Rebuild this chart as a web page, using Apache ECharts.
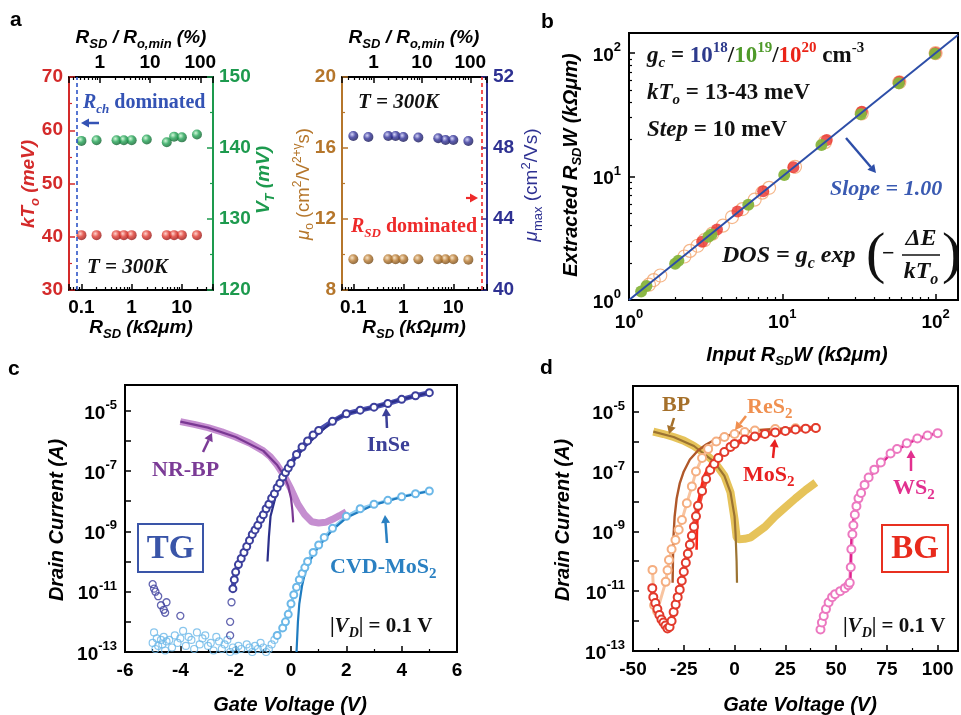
<!DOCTYPE html>
<html><head><meta charset="utf-8">
<script src="https://cdn.jsdelivr.net/npm/echarts@6/dist/echarts.min.js"></script>
<style>html,body{margin:0;padding:0;background:#fff}#c{width:961px;height:715px}</style>
</head><body><div id="c"></div><script>
// ================= DATA =================
// Panel a
const rsdA = [0.1, 0.2, 0.5, 0.7, 1, 2, 5, 7, 10, 20];
const kTo = [40.3, 40.3, 40.3, 40.3, 40.3, 40.3, 40.3, 40.3, 40.3, 40.3];
const vT = [141.0, 141.1, 141.1, 141.1, 141.1, 141.2, 140.8, 141.6, 141.5, 141.9];
const mu0 = [9.73, 9.73, 9.73, 9.73, 9.73, 9.73, 9.73, 9.73, 9.73, 9.70];
const muMax = [48.68, 48.62, 48.68, 48.68, 48.62, 48.59, 48.55, 48.45, 48.45, 48.39];
const rchLimit = 0.076;
const rsdLimit = 37.5;
// Panel b
const bRedIn = [3.0, 3.75, 5.1, 7.5, 11.8, 19.5, 33, 58, 100];
const bRedOut = [2.97, 3.72, 5.2, 7.6, 11.9, 19.8, 33.5, 58.5, 100];
const bGreenIn = [1.2, 1.3, 2.0, 2.1, 3.3, 3.45, 6.0, 10.3, 18, 32.5, 57.5, 99];
const bGreenOut = [1.17, 1.3, 1.97, 2.08, 3.25, 3.4, 5.9, 10.3, 18, 32, 57, 99];
const bOrangeIn = [1.35, 1.45, 1.6, 2.3, 2.5, 2.8, 3.1, 3.5, 4.1, 4.7, 5.5, 6.6, 7.4, 8.2, 12.1, 19, 33, 58, 100];
const bOrangeOut = [1.33, 1.45, 1.58, 2.25, 2.5, 2.75, 3.05, 3.45, 4.0, 4.7, 5.45, 6.5, 7.4, 8.1, 12.0, 19, 32.5, 58, 100];
const bLineX = [1, 140];
const inseNoiseV = [-5.0, -4.95, -4.9, -4.8, -4.7, -4.6, -4.55, -4.5, -4.0, -2.2, -2.2, -2.15];
const inseNoiseLog = [-10.75, -10.9, -11.0, -11.15, -11.45, -11.6, -11.7, -11.35, -11.8, -12.45, -12.0, -11.35];
const inseV = [-2.1, -2.05, -2.0, -1.9, -1.8, -1.7, -1.6, -1.5, -1.4, -1.3, -1.2, -1.1, -1.0, -0.9, -0.8, -0.7, -0.6, -0.5, -0.4, -0.3, -0.2, -0.1, 0.0, 0.2, 0.4, 0.6, 0.8, 1.0, 1.5, 2.0, 2.5, 3.0, 3.5, 4.0, 4.5, 5.0];
const inseLog = [-10.9, -10.6, -10.35, -10.1, -9.9, -9.7, -9.5, -9.3, -9.1, -8.95, -8.8, -8.6, -8.45, -8.25, -8.1, -7.9, -7.75, -7.55, -7.4, -7.2, -7.05, -6.9, -6.75, -6.45, -6.2, -6.0, -5.8, -5.65, -5.35, -5.1, -4.98, -4.88, -4.76, -4.62, -4.5, -4.4];
const inseFitV = [-0.85, -0.8, -0.74, -0.6, -0.5, -0.3, 0, 0.5, 1, 1.5, 2, 3, 4, 5];
const inseFitLog = [-10.0, -9.2, -8.5, -8.0, -7.65, -7.2, -6.75, -6.2, -5.75, -5.35, -5.1, -4.88, -4.62, -4.4];
const cvdNoiseV = [-5.0, -4.95, -4.9, -4.85, -4.8, -4.75, -4.7, -4.65, -4.6, -4.55, -4.5, -4.4, -4.3, -4.2, -4.1, -4.0, -3.9, -3.8, -3.7, -3.6, -3.5, -3.4, -3.3, -3.2, -3.1, -3.0, -2.9, -2.8, -2.7, -2.6, -2.5, -2.4, -2.3, -2.2, -2.1, -2.0, -1.9, -1.8, -1.7, -1.6, -1.5, -1.4, -1.3, -1.2, -1.1, -1.0, -0.9, -0.8, -0.7, -0.6];
const cvdNoiseLog = [-12.7, -12.35, -12.9, -12.55, -12.8, -13.05, -12.6, -12.75, -12.5, -12.95, -12.65, -12.6, -12.85, -12.45, -12.7, -12.55, -12.3, -12.8, -12.5, -12.6, -12.9, -12.35, -12.75, -12.55, -12.45, -12.8, -12.7, -12.95, -12.5, -12.65, -12.9, -12.75, -12.6, -13.0, -12.85, -12.95, -12.8, -12.9, -13.05, -12.75, -12.85, -13.0, -12.8, -12.9, -12.7, -12.85, -13.0, -12.9, -12.75, -12.6];
const cvdV = [-0.5, -0.3, -0.2, -0.1, 0, 0.1, 0.2, 0.3, 0.4, 0.5, 0.6, 0.8, 1.0, 1.2, 1.5, 2.0, 2.5, 3.0, 3.5, 4.0, 4.5, 5.0];
const cvdLog = [-12.45, -12.2, -12.0, -11.75, -11.4, -11.1, -10.85, -10.6, -10.4, -10.2, -10.0, -9.7, -9.45, -9.2, -8.9, -8.5, -8.25, -8.1, -7.97, -7.85, -7.75, -7.66];
const cvdFitV = [0.2, 0.25, 0.3, 0.4, 0.5, 0.7, 1.0, 1.5, 2.0, 3.0, 4.0, 5.0];
const cvdFitLog = [-13.0, -12.0, -11.4, -10.8, -10.4, -9.95, -9.5, -8.95, -8.55, -8.12, -7.86, -7.66];
const nrbpV = [-4.0, -3.5, -3.0, -2.5, -2.0, -1.5, -1.0, -0.75, -0.5, -0.25, 0, 0.25, 0.5, 0.75, 1.0, 1.25, 1.5, 1.75, 2.0];
const nrbpLog = [-5.36, -5.45, -5.56, -5.7, -5.87, -6.07, -6.33, -6.52, -6.8, -7.15, -7.6, -8.1, -8.45, -8.68, -8.72, -8.7, -8.6, -8.48, -8.35];
const nrbpFitV = [-4, -3, -2, -1, -0.5, -0.25, -0.1, 0, 0.05, 0.08];
const nrbpFitLog = [-5.36, -5.56, -5.87, -6.33, -6.8, -7.15, -7.5, -7.9, -8.3, -8.7];
// Panel d
const bpV = [-40, -35, -30, -25, -20, -15, -10, -5, -2, 0, 1, 2, 5, 8, 10, 15, 20, 25, 30, 35, 40];
const bpLog = [-5.67, -5.75, -5.85, -5.97, -6.15, -6.38, -6.68, -7.15, -7.7, -8.6, -9.2, -9.27, -9.25, -9.2, -9.1, -8.85, -8.5, -8.2, -7.9, -7.62, -7.37];
const bpFitV = [-40, -30, -20, -10, -5, -2, 0, 0.5, 1, 1.2];
const bpFitLog = [-5.67, -5.85, -6.15, -6.68, -7.15, -7.7, -8.5, -9.1, -10.0, -10.72];
const res2V = [-40.4, -39.6, -38.1, -33.9, -33, -32.3, -31, -29.1, -27.5, -25.9, -23.5, -21, -19, -16, -13, -9, -5, 0, 5, 10, 20, 30, 40];
const res2Log = [-10.29, -11.47, -11.67, -10.69, -10.3, -9.96, -9.6, -9.29, -8.95, -8.62, -8.06, -7.5, -7.0, -6.55, -6.25, -6.0, -5.85, -5.75, -5.68, -5.63, -5.58, -5.56, -5.55];
const res2FitV = [-30.5, -30.3, -30, -29.5, -28.5, -27, -25, -22, -18, -14, -10, -5, 0, 5, 10, 20, 30, 40];
const res2FitLog = [-10.72, -9.8, -9.1, -8.5, -7.9, -7.4, -7.0, -6.6, -6.3, -6.1, -5.95, -5.82, -5.75, -5.68, -5.63, -5.58, -5.56, -5.55];
const mos2V = [-40.5, -40, -39, -38, -37, -36, -35, -34, -33, -32, -31, -30, -29, -28, -27, -26, -25, -24, -23, -22, -21, -20, -19, -18, -16, -14, -12, -10, -8, -5, -2, 0, 5, 10, 15, 20, 25, 30, 35, 40];
const mos2Log = [-10.9, -11.2, -11.4, -11.6, -11.8, -11.95, -12.05, -12.15, -12.25, -12.2, -12.0, -11.7, -11.45, -11.2, -10.95, -10.65, -10.35, -10.05, -9.75, -9.45, -9.15, -8.85, -8.5, -8.15, -7.65, -7.25, -6.95, -6.75, -6.55, -6.35, -6.18, -6.08, -5.93, -5.83, -5.75, -5.7, -5.65, -5.6, -5.57, -5.55];
const mos2FitV = [-18.7, -18.5, -18, -17, -15, -12, -8, -4, 0, 5, 10, 20, 30, 40];
const mos2FitLog = [-9.62, -8.9, -8.3, -7.7, -7.15, -6.75, -6.45, -6.25, -6.08, -5.93, -5.83, -5.7, -5.6, -5.55];
const ws2V = [42.3, 43, 43.9, 45, 46.3, 48, 49.5, 52, 54.3, 56, 56.7, 57.2, 57.5, 58, 58.5, 59.2, 60, 61, 62.3, 64, 66, 68.8, 72, 76.8, 80, 84.8, 90, 95, 100];
const ws2Log = [-12.28, -12.05, -11.83, -11.6, -11.38, -11.2, -11.1, -11.0, -10.9, -10.8, -10.72, -10.2, -9.6, -9.1, -8.8, -8.45, -8.16, -7.9, -7.72, -7.45, -7.2, -6.94, -6.7, -6.4, -6.25, -6.06, -5.9, -5.8, -5.72];
const ws2FitV = [57, 57.2, 57.5, 58, 59, 60, 62, 65, 70, 75, 80, 85, 90, 95, 100];
const ws2FitLog = [-10.78, -10.0, -9.3, -8.8, -8.4, -8.1, -7.75, -7.35, -6.9, -6.55, -6.3, -6.08, -5.92, -5.8, -5.72];

// ================= HELPERS =================
const FS = '"Liberation Sans", Arial, sans-serif';
const SERIF = '"Liberation Serif", "Times New Roman", serif';
const zip = (xs, ys) => xs.map((x, i) => [x, ys[i]]);
const zipLog = (xs, ls) => xs.map((x, i) => [x, Math.pow(10, ls[i])]);

function sphere(c0, c1, c2) {
  return {type: 'radial', x: 0.38, y: 0.35, r: 0.7,
    colorStops: [{offset: 0, color: c0}, {offset: 0.45, color: c1}, {offset: 1, color: c2}]};
}
function numLabel(v) {
  const l = Math.log10(v), e = Math.round(l);
  if (Math.abs(l - e) > 1e-6) return '';
  return e < 0 ? v.toFixed(-e) : String(Math.round(v));
}
function powLabel(oddOnly) {
  return function (v) {
    const l = Math.log10(v), e = Math.round(l);
    if (Math.abs(l - e) > 1e-6) return '';
    if (oddOnly && Math.abs(e) % 2 !== 1) return '';
    return '{b|10}{s|' + e + '}';
  };
}
const powRich = {
  b: {fontFamily: FS, fontWeight: 'bold', fontSize: 19, color: '#000', lineHeight: 24, verticalAlign: 'bottom'},
  s: {fontFamily: FS, fontWeight: 'bold', fontSize: 13, color: '#000', lineHeight: 13, verticalAlign: 'top'}
};
function lab(color, size) {
  return {fontFamily: FS, fontWeight: 'bold', fontSize: size || 18, color: color, margin: 6};
}
function line(color, w) { return {show: true, onZero: false, lineStyle: {color: color, width: w || 2}}; }
function tick(color, len) { return {show: true, inside: true, length: len || 6, lineStyle: {color: color, width: 1.5}}; }
function minor(color, n) { return {show: true, splitNumber: n, length: 3, lineStyle: {color: color, width: 1.2}}; }

function R(size, color, italic, family, weight) {
  return {fontFamily: family || FS, fontWeight: weight || 'bold', fontStyle: italic ? 'italic' : 'normal',
    fontSize: size, fill: color, lineHeight: Math.round(size * 1.3), verticalAlign: 'middle'};
}
function richSet(size, color, italic, family, weight) {
  const base = R(size, color, italic, family, weight);
  const small = Math.round(size * 0.66);
  return {
    n: base,
    r: R(size, color, false, family, weight),
    i: R(size, color, true, family, weight),
    s: Object.assign({}, base, {fontSize: small, lineHeight: small, verticalAlign: 'bottom'}),
    p: Object.assign({}, base, {fontSize: small, lineHeight: small, verticalAlign: 'top'})
  };
}
function T(x, y, text, rich, o) {
  o = o || {};
  return {type: 'text', x: x, y: y, rotation: o.rot || 0, z: 100,
    style: {text: text, rich: rich, align: o.align || 'left', verticalAlign: 'middle',
      font: 'bold 18px ' + FS, fill: '#000'}};
}
function arrow(x1, y1, x2, y2, color, w) {
  const ang = Math.atan2(y2 - y1, x2 - x1), L = 8, W = 4.5;
  const bx = x2 - L * Math.cos(ang), by = y2 - L * Math.sin(ang);
  const px = -Math.sin(ang) * W, py = Math.cos(ang) * W;
  return [
    {type: 'line', z: 100, shape: {x1: x1, y1: y1, x2: bx, y2: by}, style: {stroke: color, lineWidth: w || 2.5}},
    {type: 'polygon', z: 100, shape: {points: [[x2, y2], [bx + px, by + py], [bx - px, by - py]]}, style: {fill: color}}
  ];
}

// ================= AXES =================
const red = '#d42a2a', green = '#1d9a4e', brown = '#b5762b', navy = '#2e3192';
const grids = [
  {left: 69, top: 77, width: 144, height: 213},
  {left: 342, top: 77, width: 145, height: 213},
  {left: 629, top: 33, width: 332, height: 267, show: true, borderColor: '#000', borderWidth: 2},
  {left: 125, top: 385, width: 332, height: 267, show: true, borderColor: '#000', borderWidth: 2},
  {left: 633, top: 386, width: 333, height: 265, show: true, borderColor: '#000', borderWidth: 2}
];
const xAxes = [
  {gridIndex: 0, type: 'log', min: 0.0565, max: 41.7, position: 'bottom', axisLine: line('#000'), axisTick: tick('#000'),
   minorTick: minor('#000', 9), splitLine: {show: false}, axisLabel: Object.assign(lab('#000', 19), {formatter: numLabel, margin: 8})},
  {gridIndex: 0, type: 'log', min: 0.243, max: 179, position: 'top', axisLine: line('#000'), axisTick: tick('#000'),
   minorTick: minor('#000', 9), splitLine: {show: false}, axisLabel: Object.assign(lab('#000', 19), {formatter: numLabel, margin: 5})},
  {gridIndex: 1, type: 'log', min: 0.0594, max: 47.2, position: 'bottom', axisLine: line('#000'), axisTick: tick('#000'),
   minorTick: minor('#000', 9), splitLine: {show: false}, axisLabel: Object.assign(lab('#000', 19), {formatter: numLabel, margin: 8})},
  {gridIndex: 1, type: 'log', min: 0.222, max: 222, position: 'top', axisLine: line('#000'), axisTick: tick('#000'),
   minorTick: minor('#000', 9), splitLine: {show: false}, axisLabel: Object.assign(lab('#000', 19), {formatter: numLabel, margin: 5})},
  {gridIndex: 2, type: 'log', min: 1, max: 140, axisLine: line('#000'), axisTick: tick('#000'),
   minorTick: minor('#000', 9), splitLine: {show: false}, axisLabel: {formatter: powLabel(false), rich: powRich, margin: 8}},
  {gridIndex: 3, type: 'value', min: -6, max: 6, interval: 2, axisLine: line('#000'), axisTick: tick('#000'),
   minorTick: minor('#000', 2), splitLine: {show: false}, axisLabel: Object.assign(lab('#000', 19), {margin: 9})},
  {gridIndex: 4, type: 'value', min: -50, max: 110, interval: 25, axisLine: line('#000'), axisTick: tick('#000'),
   minorTick: minor('#000', 2), splitLine: {show: false},
   axisLabel: Object.assign(lab('#000', 19), {margin: 9, formatter: v => (v > 100.5 ? '' : String(v))})}
];
const yAxes = [
  {gridIndex: 0, type: 'value', min: 30, max: 70, interval: 10, position: 'left', axisLine: line(red), axisTick: tick(red),
   minorTick: minor(red, 2), splitLine: {show: false}, axisLabel: lab(red, 19)},
  {gridIndex: 0, type: 'value', min: 120, max: 150, interval: 10, position: 'right', axisLine: line(green), axisTick: tick(green),
   minorTick: minor(green, 2), splitLine: {show: false}, axisLabel: lab(green, 19)},
  {gridIndex: 1, type: 'value', min: 8, max: 20, interval: 4, position: 'left', axisLine: line(brown), axisTick: tick(brown),
   minorTick: minor(brown, 2), splitLine: {show: false}, axisLabel: lab(brown, 19)},
  {gridIndex: 1, type: 'value', min: 40, max: 52, interval: 4, position: 'right', axisLine: line(navy), axisTick: tick(navy),
   minorTick: minor(navy, 2), splitLine: {show: false}, axisLabel: lab(navy, 19)},
  {gridIndex: 2, type: 'log', min: 1, max: 145.5, axisLine: line('#000'), axisTick: tick('#000'),
   minorTick: minor('#000', 9), splitLine: {show: false}, axisLabel: {formatter: powLabel(false), rich: powRich, margin: 8}},
  {gridIndex: 3, type: 'log', min: 1e-13, max: 7.16e-5, axisLine: line('#000'), axisTick: tick('#000'),
   splitLine: {show: false}, axisLabel: {formatter: powLabel(true), rich: powRich, margin: 8}},
  {gridIndex: 4, type: 'log', min: 1e-13, max: 7.16e-5, axisLine: line('#000'), axisTick: tick('#000'),
   splitLine: {show: false}, axisLabel: {formatter: powLabel(true), rich: powRich, margin: 8}}
];

// ================= SERIES =================
const series = [];
function sc(xi, yi, data, style, size, extra) {
  series.push(Object.assign({type: 'scatter', xAxisIndex: xi, yAxisIndex: yi, data: data, symbolSize: size,
    itemStyle: style, silent: true}, extra || {}));
}
function ln(xi, yi, data, color, w, extra) {
  series.push(Object.assign({type: 'line', xAxisIndex: xi, yAxisIndex: yi, data: data, showSymbol: false, symbol: 'none',
    lineStyle: {color: color, width: w}, silent: true}, extra || {}));
}
function open(color, bw) { return {color: 'rgba(255,255,255,0)', borderColor: color, borderWidth: bw || 1.3}; }

// panel a
sc(0, 0, zip(rsdA, kTo), {color: sphere('#ffc8c0', '#e03a30', '#8e1010')}, 10, {
  markLine: {symbol: 'none', silent: true, label: {show: false}, lineStyle: {type: [4, 3], color: '#2f55c8', width: 1.6},
    data: [{xAxis: rchLimit}]}});
sc(0, 1, zip(rsdA, vT), {color: sphere('#c8f5d0', '#22a455', '#0b5a28')}, 10);
sc(2, 2, zip(rsdA, mu0), {color: sphere('#f5dcb8', '#b87a30', '#6a4010')}, 10, {
  markLine: {symbol: 'none', silent: true, label: {show: false}, lineStyle: {type: [4, 3], color: '#ee2a2a', width: 1.6},
    data: [{xAxis: rsdLimit}]}});
sc(2, 3, zip(rsdA, muMax), {color: sphere('#c8c8f5', '#32329a', '#12124a')}, 10);

// panel b
ln(4, 4, zip(bLineX, bLineX), '#2d4ea8', 2);
sc(4, 4, zip(bOrangeIn, bOrangeOut), open('#f3a46c', 1.2), 13);
sc(4, 4, zip(bRedIn, bRedOut), {color: '#e8302a'}, 12);
sc(4, 4, zip(bGreenIn, bGreenOut), {color: '#86b43c', opacity: 0.95}, 12);

// panel c
sc(5, 5, zipLog(cvdNoiseV, cvdNoiseLog), open('#6cb8e8', 1.2), 7);
ln(5, 5, zipLog(cvdV, cvdLog), '#8ccaf0', 3, {showSymbol: true, symbol: 'emptyCircle', symbolSize: 7,
  itemStyle: {color: '#6cb8e8', borderWidth: 1.2}});
ln(5, 5, zipLog(cvdFitV, cvdFitLog), '#1f7cc0', 2.2);
sc(5, 5, zipLog(inseNoiseV, inseNoiseLog), open('#3c3f9c', 1.3), 7);
ln(5, 5, zipLog(inseV, inseLog), '#4a4fb0', 5, {showSymbol: true, symbol: 'emptyCircle', symbolSize: 7,
  itemStyle: {color: '#3c3f9c', borderWidth: 1.2}});
ln(5, 5, zipLog(inseFitV, inseFitLog), '#2b2f8a', 2.2);
ln(5, 5, zipLog(nrbpV, nrbpLog), '#c58ed0', 7);
ln(5, 5, zipLog(nrbpFitV, nrbpFitLog), '#7a3893', 2.2);

// panel d
ln(6, 6, zipLog(bpV, bpLog), '#e6c35a', 8);
ln(6, 6, zipLog(bpFitV, bpFitLog), '#9b7332', 2.2);
ln(6, 6, zipLog(res2V, res2Log), '#f8c4a0', 3, {showSymbol: true, symbol: 'emptyCircle', symbolSize: 8,
  itemStyle: {color: '#f5ae80', borderWidth: 1.2}});
ln(6, 6, zipLog(mos2V, mos2Log), '#f04a3a', 5, {showSymbol: true, symbol: 'emptyCircle', symbolSize: 8,
  itemStyle: {color: '#e23a2c', borderWidth: 1.2}});
ln(6, 6, zipLog(res2FitV, res2FitLog), '#b0582a', 2.4);
ln(6, 6, zipLog(mos2FitV, mos2FitLog), '#ff2418', 2.6);
ln(6, 6, zipLog(ws2V, ws2Log), '#f29ad0', 3.5, {showSymbol: true, symbol: 'emptyCircle', symbolSize: 8,
  itemStyle: {color: '#ec78c0', borderWidth: 1.2}});
ln(6, 6, zipLog(ws2FitV, ws2FitLog), '#e0208c', 2.2);

// ================= TEXT / GRAPHICS =================
const G = [];
const letter = {n: {fontFamily: FS, fontWeight: 'bold', fontSize: 21, fill: '#000'}};
G.push(T(10, 20, '{n|a}', letter), T(541, 22, '{n|b}', letter), T(8, 369, '{n|c}', letter), T(540, 368, '{n|d}', letter));
const tBlack = richSet(19, '#000', true);
G.push(T(141, 38, '{n|R}{s|SD}{n| / R}{s|o,min}{n| (%)}', tBlack, {align: 'center'}));
G.push(T(414, 38, '{n|R}{s|SD}{n| / R}{s|o,min}{n| (%)}', tBlack, {align: 'center'}));
G.push(T(141, 328, '{n|R}{s|SD}{n| (kΩμm)}', tBlack, {align: 'center'}));
G.push(T(414, 328, '{n|R}{s|SD}{n| (kΩμm)}', tBlack, {align: 'center'}));
G.push(T(29, 184, '{n|kT}{s|o}{n| (meV)}', richSet(19, red, true), {align: 'center', rot: Math.PI / 2}));
G.push(T(264, 180, '{n|V}{s|T}{n| (mV)}', richSet(19, green, true), {align: 'center', rot: Math.PI / 2}));
G.push(T(304, 184, '{i|μ}{s|o}{r| (cm}{p|2}{r|/V}{p|2+γ}{r|s)}', richSet(18.5, brown, false, FS, 'normal'), {align: 'center', rot: Math.PI / 2}));
G.push(T(532, 185, '{i|μ}{s|max}{r| (cm}{p|2}{r|/Vs)}', richSet(19, navy, false, FS, 'normal'), {align: 'center', rot: Math.PI / 2}));
const blueS = richSet(20, '#3453b5', false, SERIF);
G.push(T(83, 103, '{i|R}{s|ch}{r| dominated}', Object.assign({}, blueS, {s: Object.assign({}, blueS.s, {fontStyle: 'italic'})})));
G.push(...arrow(99, 123, 81, 123, '#3453b5', 2.5));
const redS = richSet(20, '#ee2a2a', false, SERIF);
G.push(T(351, 227, '{i|R}{s|SD}{r| dominated}', Object.assign({}, redS, {s: Object.assign({}, redS.s, {fontStyle: 'italic'})})));
G.push(...arrow(466, 198, 478, 198, '#ee2a2a', 2.2));
const tS = richSet(21, '#111', true, SERIF);
G.push(T(87, 268, '{n|T = 300K}', tS), T(358, 103, '{n|T = 300K}', tS));

const t20 = richSet(20, '#000', true);
G.push(T(571, 165, '{n|Extracted R}{s|SD}{n|W (kΩμm)}', t20, {align: 'center', rot: Math.PI / 2}));
G.push(T(797, 355, '{n|Input R}{s|SD}{n|W (kΩμm)}', t20, {align: 'center'}));
const bS = richSet(23, '#111', false, SERIF);
const bRich = Object.assign({}, bS, {
  si: Object.assign({}, bS.s, {fontStyle: 'italic'}),
  nv: Object.assign({}, bS.r, {fill: '#2d3a8c'}), nvp: Object.assign({}, bS.p, {fill: '#2d3a8c'}),
  gr: Object.assign({}, bS.r, {fill: '#4f9a2a'}), grp: Object.assign({}, bS.p, {fill: '#4f9a2a'}),
  rd: Object.assign({}, bS.r, {fill: '#ea2418'}), rdp: Object.assign({}, bS.p, {fill: '#ea2418'})
});
G.push(T(647, 56, '{i|g}{si|c}{r| = }{nv|10}{nvp|18}{r|/}{gr|10}{grp|19}{r|/}{rd|10}{rdp|20}{r| cm}{p|-3}', bRich));
G.push(T(647, 93, '{i|kT}{si|o}{r| = 13-43 meV}', bRich));
G.push(T(647, 130, '{i|Step}{r| = 10 meV}', bRich));
G.push(T(830, 189, '{n|Slope = 1.00}', richSet(22, '#3a5ab2', true, SERIF)));
G.push(...arrow(846, 138, 876, 173, '#2d4ea8', 2.4));
const dS = richSet(24, '#111', true, SERIF);
G.push(T(722, 256, '{n|DOS = g}{s|c}{n| exp}', dS));
G.push(T(866, 257, '{big|(}', {big: {fontFamily: SERIF, fontSize: 58, fill: '#111', fontWeight: 'normal'}}));
G.push(T(882, 254, '{n|−}', richSet(22, '#111', false, SERIF)));
G.push(T(921, 239, '{n|ΔE}', dS, {align: 'center'}));
G.push({type: 'line', z: 100, shape: {x1: 902, y1: 255, x2: 940, y2: 255}, style: {stroke: '#111', lineWidth: 1.5}});
G.push(T(921, 272, '{n|kT}{s|o}', dS, {align: 'center'}));
G.push(T(942, 257, '{big|)}', {big: {fontFamily: SERIF, fontSize: 58, fill: '#111', fontWeight: 'normal'}}));

const t20b = richSet(20, '#000', true);
G.push(T(57, 520, '{n|Drain Current (A)}', t20b, {align: 'center', rot: Math.PI / 2}));
G.push(T(290, 705, '{n|Gate Voltage (V)}', t20b, {align: 'center'}));
G.push(T(563, 520, '{n|Drain Current (A)}', t20b, {align: 'center', rot: Math.PI / 2}));
G.push(T(800, 705, '{n|Gate Voltage (V)}', t20b, {align: 'center'}));

G.push(T(152, 470, '{r|NR-BP}', richSet(22, '#7b3b96', false, SERIF)));
G.push(...arrow(203, 452, 212, 433, '#7b3b96', 2.5));
G.push(T(367, 445, '{r|InSe}', richSet(22, '#3b3f98', false, SERIF)));
G.push(...arrow(387, 428, 386, 408, '#3b3f98', 2.5));
G.push(T(330, 567, '{r|CVD-MoS}{s|2}', richSet(22, '#2a80c2', false, SERIF)));
G.push(...arrow(387, 543, 385, 515, '#2a80c2', 2.5));
G.push({type: 'rect', z: 100, shape: {x: 138, y: 524, width: 65, height: 48}, style: {fill: 'none', stroke: '#3a55a8', lineWidth: 2}});
G.push(T(170.5, 549, '{r|TG}', richSet(33, '#3a55a8', false, SERIF), {align: 'center'}));
const vdS = richSet(21, '#111', false, SERIF);
const vdRich = Object.assign({}, vdS, {si: Object.assign({}, vdS.s, {fontStyle: 'italic'})});
G.push(T(330, 627, '{r||}{i|V}{si|D}{r|| = 0.1 V}', vdRich));
G.push(T(843, 627, '{r||}{i|V}{si|D}{r|| = 0.1 V}', vdRich));

G.push(T(662, 405, '{r|BP}', richSet(22, '#a5702a', false, SERIF)));
G.push(...arrow(674, 418, 669, 434, '#a5702a', 2.5));
G.push(T(747, 407, '{r|ReS}{s|2}', richSet(22, '#f09050', false, SERIF)));
G.push(...arrow(746, 416, 735, 430, '#f09050', 2.5));
G.push(T(743, 475, '{r|MoS}{s|2}', richSet(22, '#e82020', false, SERIF)));
G.push(...arrow(773, 458, 775, 439, '#e82020', 2.5));
G.push(T(893, 488, '{r|WS}{s|2}', richSet(22, '#e2308f', false, SERIF)));
G.push(...arrow(911, 471, 911, 450, '#e2308f', 2.5));
G.push({type: 'rect', z: 100, shape: {x: 882, y: 525, width: 66, height: 47}, style: {fill: 'none', stroke: '#e83020', lineWidth: 2}});
G.push(T(915, 549, '{r|BG}', richSet(33, '#e82a1c', false, SERIF), {align: 'center'}));

const chart = echarts.init(document.getElementById('c'), null, {renderer: 'canvas'});
chart.setOption({
  animation: false,
  backgroundColor: '#fff',
  grid: grids,
  xAxis: xAxes,
  yAxis: yAxes,
  series: series,
  graphic: G
});
</script></body></html>
